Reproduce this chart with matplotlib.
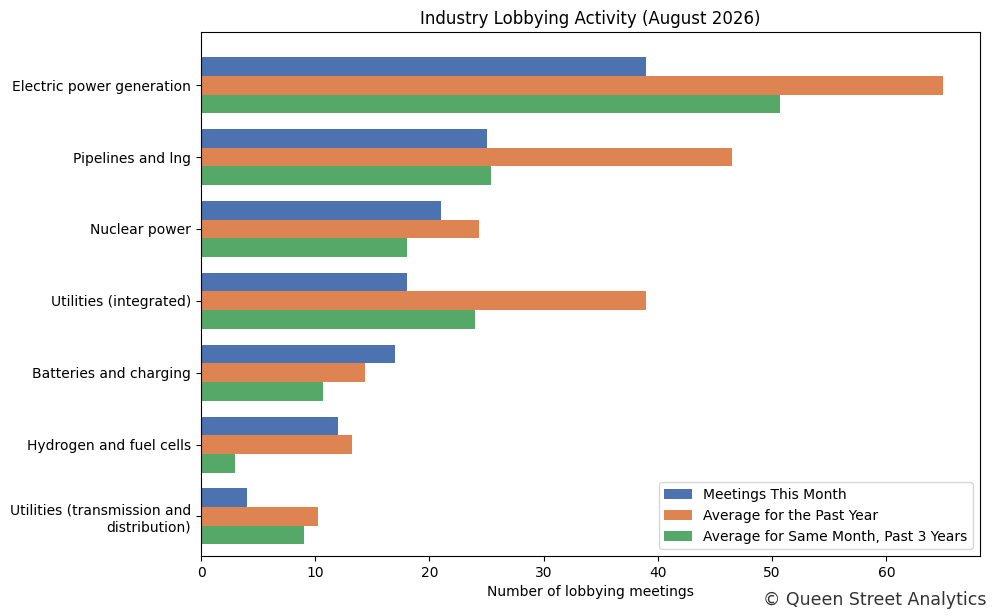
import numpy as np
import matplotlib.pyplot as plt

categories = ["Electric power generation", "Pipelines and lng", "Nuclear power",
              "Utilities (integrated)", "Batteries and charging",
              "Hydrogen and fuel cells", "Utilities (transmission and\ndistribution)"]
this_month = [39, 25, 21, 18, 17, 12, 4]
past_year = [65, 46.5, 24.3, 39.0, 14.4, 13.2, 10.2]
same_month_3y = [50.7, 25.4, 18, 24, 10.7, 3, 9.0]

fig = plt.figure(figsize=(9.96, 6.16), dpi=100)
ax = fig.add_axes([201/996, 1 - 556/616, 779/996, 524/616])

y = np.arange(len(categories))
h = 0.26
ax.barh(y - h, this_month, h, color="#4C72B0", label="Meetings This Month")
ax.barh(y, past_year, h, color="#DD8452", label="Average for the Past Year")
ax.barh(y + h, same_month_3y, h, color="#55A868", label="Average for Same Month, Past 3 Years")

ax.set_yticks(y)
ax.set_yticklabels(categories)
ax.set_ylim(len(categories) - 0.5 + 0.05, -0.74)
ax.set_xlim(0, 68.2)
ax.set_xlabel("Number of lobbying meetings")
ax.set_title("Industry Lobbying Activity (August 2026)")
ax.legend(loc="lower right")
fig.text(0.99, 0.012, "© Queen Street Analytics", ha="right", va="bottom", fontsize=12.5, color="#333333")

fig.savefig("out.png", dpi=100)
